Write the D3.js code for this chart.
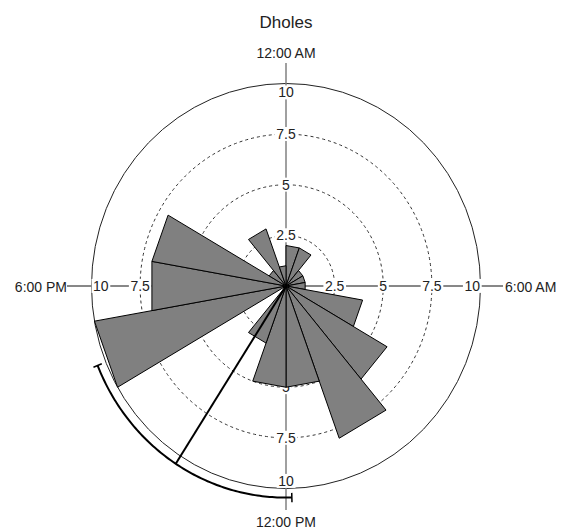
<!DOCTYPE html>
<html>
<head>
<meta charset="utf-8">
<script src="https://cdn.jsdelivr.net/npm/d3@7"></script>
<style>
  body { margin: 0; background: #fff; }
  text { font-family: Arial, "Liberation Sans", sans-serif; fill: #222; }
</style>
</head>
<body>
<div id="rose"></div>
<script>
// 18 bins of 80 minutes each, counts of detections
const binLabels = ['00:00', '01:20', '02:40', '04:00', '05:20', '06:40', '08:00', '09:20', '10:40',
    '12:00', '13:20', '14:40', '16:00', '17:20', '18:40', '20:00', '21:20', '22:40'];
const counts = [2, 2, 1, 1, 1, 4, 6, 8, 5, 5, 3, 0, 10, 7, 7, 1, 3, 1];

const radialTicks = [2.5, 5, 7.5, 10];
const hourLabels = ['12:00 AM', '6:00 AM', '12:00 PM', '6:00 PM'];
const hourTicks = [0, 6, 12, 18];

// mean activity time and its confidence interval (hours)
const meanHour = 14.19;
const ciHours = [11.89, 16.53];

const svgWidth = 563;
const svgHeight = 530;
const cx = 286, cy = 286;
const arcR = 10.45;

const rX = d3.scaleLinear().domain([0, 10]).range([0, 194.5]);
const rY = d3.scaleLinear().domain([0, 10]).range([0, 202.5]);
const angle = d3.scaleBand().domain(binLabels).range([0, 2 * Math.PI]).padding(0);
const hourAngle = d3.scaleLinear().domain([0, 24]).range([0, 2 * Math.PI]);

function pt(a, r) {
    return [cx + rX(r) * Math.sin(a), cy - rY(r) * Math.cos(a)];
}

const svg = d3.select('#rose')
    .append('svg')
    .attr('width', svgWidth)
    .attr('height', svgHeight);

svg.append('text')
    .attr('x', cx)
    .attr('y', 28)
    .attr('text-anchor', 'middle')
    .style('font-size', '17px')
    .text('Dholes');

// grid circles
svg.selectAll('.grid')
    .data(radialTicks)
    .enter().append('ellipse')
    .attr('cx', cx)
    .attr('cy', cy)
    .attr('rx', d => rX(d))
    .attr('ry', d => rY(d))
    .attr('fill', 'none')
    .attr('stroke', d => d === 10 ? '#222' : '#333')
    .attr('stroke-width', 1)
    .attr('stroke-dasharray', d => d === 10 ? null : '3,3');

// axis lines
svg.append('line')
    .attr('x1', cx).attr('x2', cx)
    .attr('y1', 63).attr('y2', 510)
    .attr('stroke', '#808080')
    .attr('stroke-width', 1.5);
svg.append('line')
    .attr('x1', 67).attr('x2', 503)
    .attr('y1', cy).attr('y2', cy)
    .attr('stroke', '#111')
    .attr('stroke-width', 1);

// hour labels
const hourPos = [
    { x: cx, y: 58, anchor: 'middle' },
    { x: 505, y: 291.5, anchor: 'start' },
    { x: cx, y: 526.5, anchor: 'middle' },
    { x: 67, y: 291.5, anchor: 'end' }
];
svg.selectAll('.hour')
    .data(hourTicks)
    .enter().append('text')
    .attr('class', 'hour')
    .attr('x', (d, i) => hourPos[i].x)
    .attr('y', (d, i) => hourPos[i].y)
    .attr('text-anchor', (d, i) => hourPos[i].anchor)
    .style('font-size', '14px')
    .text((d, i) => hourLabels[i]);

// radial tick labels on the four axes
const tickData = [];
hourTicks.forEach(h => radialTicks.forEach(v => tickData.push({ h: h, v: v })));

const tickG = svg.selectAll('.tick')
    .data(tickData)
    .enter().append('g')
    .attr('class', 'tick');

tickG.each(function(d) {
    const g = d3.select(this);
    const a = hourAngle(d.h);
    let p = pt(a, d.v);
    let anchor = 'middle';
    if (d.v === 10) {
        if (d.h === 0) p = [p[0], p[1] + 9];
        if (d.h === 12) p = [p[0], p[1] - 7.5];
        if (d.h === 6) { p = [p[0] - 0.5, p[1]]; anchor = 'end'; }
        if (d.h === 18) { p = [p[0] + 1.5, p[1]]; anchor = 'start'; }
    }
    const t = g.append('text')
        .attr('x', p[0])
        .attr('y', p[1])
        .attr('dy', '0.35em')
        .attr('text-anchor', anchor)
        .style('font-size', '14px')
        .text(d.v);
    const bb = t.node().getBBox();
    g.insert('rect', 'text')
        .attr('x', bb.x - 1.5)
        .attr('y', bb.y + 1)
        .attr('width', bb.width + 3)
        .attr('height', bb.height - 2)
        .attr('fill', '#fff');
});

// rose bars
svg.selectAll('.bar')
    .data(counts)
    .enter().append('path')
    .attr('class', 'bar')
    .attr('d', (d, i) => {
        const a0 = angle(binLabels[i]);
        const a1 = a0 + angle.bandwidth();
        return 'M' + [cx, cy] + 'L' + pt(a0, d) + 'L' + pt(a1, d) + 'Z';
    })
    .attr('fill', '#808080')
    .attr('stroke', '#000')
    .attr('stroke-width', 1)
    .attr('stroke-linejoin', 'miter');

// mean direction and confidence arc
const meanA = hourAngle(meanHour);
svg.append('line')
    .attr('x1', cx).attr('y1', cy)
    .attr('x2', pt(meanA, arcR)[0])
    .attr('y2', pt(meanA, arcR)[1])
    .attr('stroke', '#000')
    .attr('stroke-width', 2);

const a0 = hourAngle(ciHours[0]), a1 = hourAngle(ciHours[1]);
const arcLine = d3.line();
svg.append('path')
    .attr('d', arcLine(d3.range(0, 1.0001, 0.01).map(f => pt(a0 + (a1 - a0) * f, arcR))))
    .attr('fill', 'none')
    .attr('stroke', '#000')
    .attr('stroke-width', 2);

[a0, a1].forEach(a => {
    svg.append('line')
        .attr('x1', pt(a, arcR - 0.23)[0]).attr('y1', pt(a, arcR - 0.23)[1])
        .attr('x2', pt(a, arcR + 0.23)[0]).attr('y2', pt(a, arcR + 0.23)[1])
        .attr('stroke', '#000')
        .attr('stroke-width', 1.5);
});
</script>
</body>
</html>
